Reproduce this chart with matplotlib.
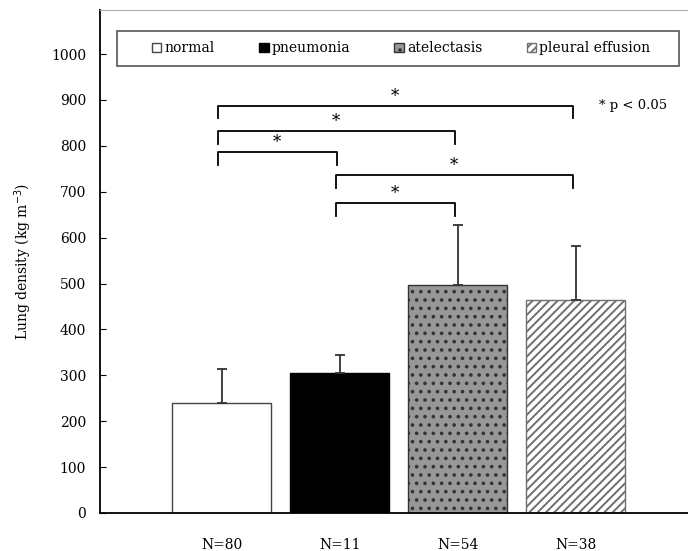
import matplotlib
matplotlib.use('Agg')
import matplotlib.pyplot as plt
from matplotlib.patches import Patch, Rectangle

plt.rcParams['font.family'] = ['DejaVu Serif']
plt.rcParams['hatch.linewidth'] = 1.4

# datos
categories = ['normal', 'pneumonia', 'atelectasis', 'pleural effusion']
n_labels = ['N=80', 'N=11', 'N=54', 'N=38']
means = [240, 305, 497, 464]
sd = [74, 39, 130, 118]

# comparaciones significativas (indice barra a, indice barra b, altura)
pair_a = [0, 0, 0, 1, 1]
pair_b = [3, 2, 1, 3, 2]
pair_y = [887, 832, 786, 736, 675]
leg = 27

yticks = [0, 100, 200, 300, 400, 500, 600, 700, 800, 900, 1000]

faces = ['white', 'black', '#979797', 'white']
hatches = [None, None, '..', '////']
edges = ['#444444', 'black', '#333333', '#707070']

fig = plt.figure(figsize=(6.88, 5.51), dpi=100)
ax = fig.add_axes([0.1453, 0.069, 0.8547, 0.9129])

x = list(range(len(categories)))
for i in x:
    ax.bar(i, means[i], width=0.84, color=faces[i], hatch=hatches[i],
           edgecolor=edges[i], linewidth=1.0, zorder=2)

ax.errorbar(x, means, yerr=[[0] * 4, sd], fmt='none', ecolor='#333333',
            elinewidth=1.3, capsize=3.5, capthick=1.3, zorder=3)

# corchetes
for a, b, y in zip(pair_a, pair_b, pair_y):
    ax.plot([a - 0.03, a - 0.03, b - 0.02, b - 0.02], [y - leg, y, y, y - leg],
            color='black', lw=1.3, zorder=3)
    ax.text((a + b) / 2 - 0.03, y + 2, '*', ha='center', va='bottom', fontsize=12)

ax.text(3.2, 887, '* p < 0.05', ha='left', va='center', fontsize=9.5)

ax.set_xlim(-1.03, 3.95)
ax.set_ylim(0, 1096)
ax.set_yticks(yticks)
ax.set_xticks(x)
ax.set_xticklabels(n_labels)
ax.tick_params(axis='x', length=0, pad=18, labelsize=10)
ax.tick_params(axis='y', direction='in', length=4, labelsize=10, pad=10)
ax.set_ylabel('Lung density (kg m$^{-3}$)', fontsize=10, labelpad=12)

ax.spines['right'].set_visible(False)
ax.spines['top'].set_color('#b0b0b0')
ax.spines['left'].set_linewidth(1.3)
ax.spines['bottom'].set_linewidth(1.3)

# caja de la leyenda
ax.add_patch(Rectangle((0.029, 0.889), 0.956, 0.069, transform=ax.transAxes,
                       facecolor='white', edgecolor='#555555', lw=1.2,
                       zorder=4))
handles = [Patch(facecolor=faces[i], edgecolor=edges[i], hatch=hatches[i])
           for i in x]
lg = ax.legend(handles, categories, ncol=4, loc='center',
               bbox_to_anchor=(0.512, 0.9235), frameon=False,
               fontsize=10, handlelength=0.7, handleheight=0.7,
               handletextpad=0.2, columnspacing=3.2)
lg.set_zorder(5)

fig.savefig('out.png', dpi=100)
